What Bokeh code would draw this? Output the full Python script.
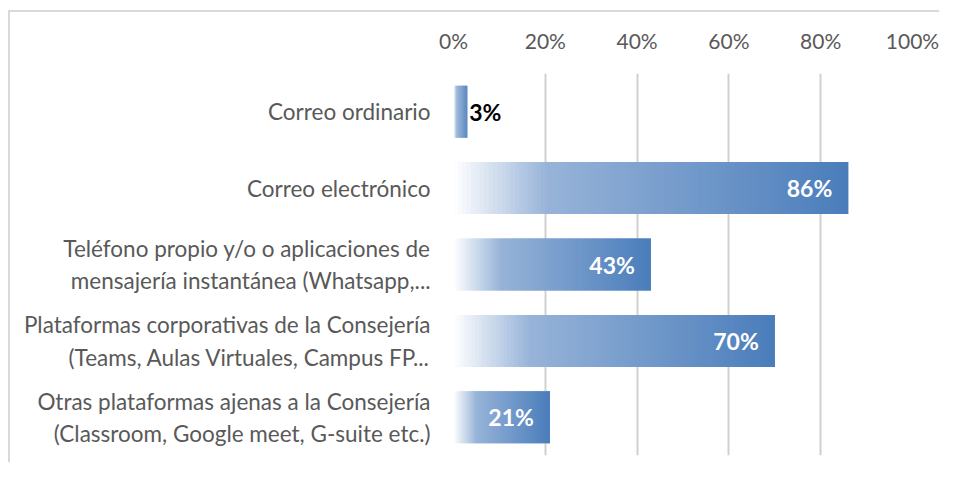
from bokeh.plotting import figure
from bokeh.models import FactorRange, Range1d, FixedTicker, ColumnDataSource, LabelSet
from bokeh.core.properties import value
from bokeh.embed import file_html
from bokeh.resources import INLINE

# ---- data ----
categories = [
    "Correo ordinario",
    "Correo electrónico",
    "Teléfono propio y/o o aplicaciones de\nmensajería instantánea (Whatsapp,...",
    "Plataformas corporativas de la Consejería\n(Teams, Aulas Virtuales, Campus FP...",
    "Otras plataformas ajenas a la Consejería\n(Classroom, Google meet, G-suite etc.)",
]
values = [3, 86, 43, 70, 21]
value_labels = ["3%", "86%", "43%", "70%", "21%"]
tick_values = [0, 20, 40, 60, 80, 100]
tick_labels = ["0%", "20%", "40%", "60%", "80%", "100%"]

FONT = "Lato"
TXT = "#595959"

p = figure(
    width=939, height=462,
    y_range=FactorRange(*list(reversed(categories))),
    x_range=Range1d(0, 100),
    x_axis_location="above",
    output_backend="svg", toolbar_location=None,
    min_border_left=453, min_border_right=27, min_border_top=73, min_border_bottom=7,
)
# light chart-area border (top and left edges), painted behind a transparent canvas
p.styles = {"box-shadow": "inset 8px 10px 0 0 #ffffff, inset 10px 12px 0 0 #d9d9d9"}
p.outline_line_color = None
p.background_fill_color = None
p.border_fill_color = None

# gradient bars built as thin slices of each bar
def hexc(c):
    return tuple(int(c[i:i + 2], 16) for i in (1, 3, 5))

stops = [(0.0, hexc("#ffffff")), (0.24, hexc("#97b3d8")), (1.0, hexc("#4a7dbb"))]

def color_at(t):
    for (t0, c0), (t1, c1) in zip(stops[:-1], stops[1:]):
        if t <= t1:
            f = (t - t0) / (t1 - t0)
            return "#%02x%02x%02x" % tuple(int(round(a + (b - a) * f)) for a, b in zip(c0, c1))
    return "#4a7dbb"

N = 90
ys, lefts, rights, cols = [], [], [], []
for cat, v in zip(categories, values):
    for j in range(N):
        ys.append(cat)
        lefts.append(v * j / N)
        rights.append(min(v * (j + 2) / N, v))
        cols.append(color_at((j + 0.5) / N))

src = ColumnDataSource(dict(y=ys, left=lefts, right=rights, c=cols))
p.hbar(y="y", left="left", right="right", height=0.68, fill_color="c", line_color=None, source=src)

# data labels
inside = ColumnDataSource(dict(y=categories[1:], x=values[1:], t=value_labels[1:]))
outside = ColumnDataSource(dict(y=categories[:1], x=values[:1], t=value_labels[:1]))
p.add_layout(LabelSet(x="x", y="y", text="t", source=inside, x_offset=-16, text_align="right",
                      text_baseline="middle", text_color="white", text_font=value(FONT),
                      text_font_size="23px", text_font_style="bold"))
p.add_layout(LabelSet(x="x", y="y", text="t", source=outside, x_offset=2, text_align="left",
                      text_baseline="middle", text_color="black", text_font=value(FONT),
                      text_font_size="23px", text_font_style="bold"))

# grid
p.ygrid.grid_line_color = None
p.xgrid.ticker = FixedTicker(ticks=tick_values)
p.xgrid.grid_line_color = "#d0d0d0"
p.xgrid.grid_line_width = 2

# top axis
xa = p.xaxis[0]
xa.ticker = FixedTicker(ticks=tick_values)
xa.major_label_overrides = {t: l for t, l in zip(tick_values, tick_labels)}
xa.axis_line_color = None
xa.major_tick_line_color = None
xa.minor_tick_line_color = None
xa.major_tick_out = 0
xa.major_label_standoff = 21
xa.major_label_text_font = FONT
xa.major_label_text_font_size = "21px"
xa.major_label_text_color = TXT

# left axis
ya = p.yaxis[0]
ya.axis_line_color = None
ya.major_tick_line_color = None
ya.minor_tick_line_color = None
ya.major_tick_out = 0
ya.major_label_standoff = 23
ya.major_label_text_font = FONT
ya.major_label_text_font_size = "22.5px"
ya.major_label_text_color = TXT

open("out.html", "w").write(file_html(p, INLINE))
